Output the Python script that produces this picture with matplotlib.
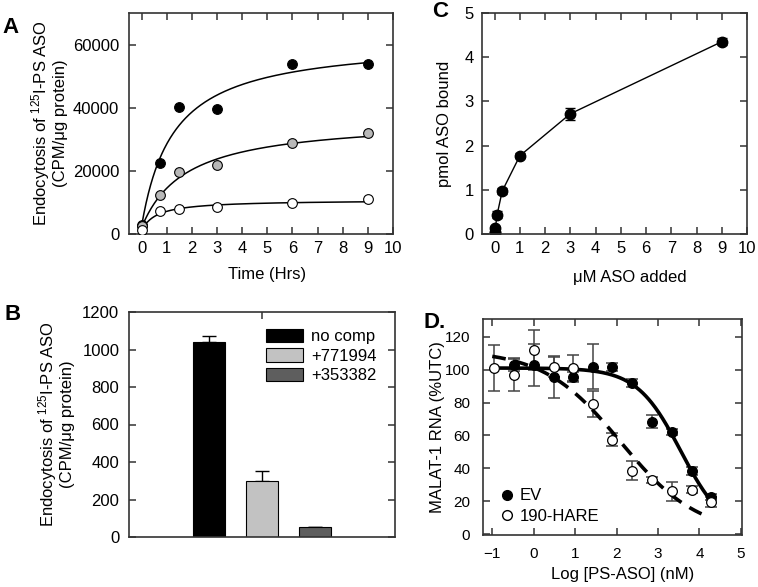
import numpy as np
import matplotlib
matplotlib.use("Agg")
import matplotlib.pyplot as plt
from matplotlib.patches import Patch
from matplotlib.lines import Line2D

plt.rcParams['font.family'] = ['Liberation Sans', 'DejaVu Sans']
plt.rcParams['mathtext.fontset'] = 'custom'
plt.rcParams['mathtext.rm'] = 'Liberation Sans'
plt.rcParams['mathtext.it'] = 'Liberation Sans:italic'
plt.rcParams['mathtext.bf'] = 'Liberation Sans:bold'

# ---------------- data ----------------
# Panel A: endocytosis time course
time_hrs = [0, 0.75, 1.5, 3, 6, 9]
a_black = [2800, 22500, 40100, 39700, 54000, 54000]
a_gray = [2500, 12300, 19700, 21900, 28700, 31900]
a_white = [1200, 7300, 7800, 8400, 9900, 11000]
# hyperbolic fit params (y0, vmax, k)
fit_black = (2500, 59140, 1.275)
fit_gray = (2000, 34570, 1.767)
fit_white = (1000, 9800, 0.587)

# Panel B: bars
b_labels = ["no comp", "+771994", "+353382"]
b_values = [1040, 300, 53]
b_errors = [30, 53, 3]
b_colors = ["#000000", "#c2c2c2", "#5e5e5e"]

# Panel C: binding
c_conc = [0.003, 0.01, 0.03, 0.1, 0.3, 1, 3, 9]
c_bound = [0.015, 0.05, 0.14, 0.44, 0.97, 1.77, 2.72, 4.35]
c_err = [0.03, 0.04, 0.05, 0.07, 0.06, 0.06, 0.13, 0.08]

# Panel D: dose response
d_ev_x = [-0.48, 0.0, 0.48, 0.95, 1.43, 1.9, 2.38, 2.86, 3.33, 3.81, 4.29]
d_ev_y = [102.8, 102.8, 95.7, 95.3, 101.8, 101.4, 92.1, 68.4, 62.0, 38.5, 22.5]
d_ev_err = [3.8, 12.5, 12.7, 3.0, 13.6, 2.5, 2.5, 3.9, 2.0, 2.5, 2.0]
d_h_x = [-0.95, -0.48, 0.0, 0.48, 0.95, 1.43, 1.9, 2.38, 2.86, 3.33, 3.81, 4.29]
d_h_y = [101.0, 97.0, 112.0, 101.8, 101.0, 79.0, 57.5, 38.5, 33.0, 26.0, 27.0, 19.5]
d_h_err = [13.8, 10.0, 12.0, 6.0, 8.0, 8.0, 4.0, 5.8, 2.0, 5.8, 2.0, 3.0]
# 4PL fit params (top, bottom, logIC50, hill)
fit_ev = (101, 0, 3.55, 0.82)
fit_hare = (112, 0, 2.1, 0.465)

# ---------------- figure ----------------
fig = plt.figure(figsize=(7.58, 5.87), dpi=100)
W, H = 758, 587


def ax_px(l, t, r, b):
    return fig.add_axes([l / W, 1 - b / H, (r - l) / W, (b - t) / H])


SP = '#333333'
FS = 12


def style(ax, pad_x=5, pad_y=7, lsize=FS):
    for s in ax.spines.values():
        s.set_color(SP)
        s.set_linewidth(1.2)
    ax.tick_params(direction='in', length=5, width=1.1, color=SP,
                   top=True, right=True, labelsize=lsize)
    ax.tick_params(axis='x', pad=pad_x)
    ax.tick_params(axis='y', pad=pad_y)


# Panel A
axA = ax_px(129, 13, 393, 234)
style(axA)
tt = np.linspace(0, 9, 300)
for (y0, vm, k) in (fit_black, fit_gray, fit_white):
    axA.plot(tt, y0 + vm * tt / (k + tt), color='black', lw=1.1, zorder=2)
axA.plot(time_hrs, a_black, 'o', ms=7, mfc='black', mec='black', mew=0.8, zorder=3)
axA.plot(time_hrs, a_gray, 'o', ms=7, mfc='#b8b8b8', mec='black', mew=0.8, zorder=3)
axA.plot(time_hrs, a_white, 'o', ms=7, mfc='white', mec='black', mew=0.8, zorder=3)
axA.set_xlim(-0.5, 10)
axA.set_ylim(0, 70000)
axA.set_xticks(range(0, 11))
axA.set_yticks([0, 20000, 40000, 60000])
axA.set_xlabel("Time (Hrs)", fontsize=FS)
axA.xaxis.set_label_coords(0.523, -0.149)
axA.xaxis.label.set_va('top')
axA.set_ylabel("Endocytosis of $^{125}$I-PS ASO\n(CPM/\u03bcg protein)", fontsize=FS, linespacing=1.1)
axA.yaxis.set_label_coords(-0.231, 0.5)

# Panel B
axB = ax_px(129, 312, 395, 537)
style(axB)
bx = [1, 2, 3]
axB.bar(bx, b_values, width=0.6, color=b_colors, edgecolor='black', linewidth=0.8, zorder=2)
axB.errorbar(bx, b_values, yerr=[[0, 0, 0], b_errors], fmt='none', ecolor='black',
             elinewidth=1.0, capsize=5, capthick=1.0, zorder=1)
axB.set_xlim(-0.5, 4.5)
axB.set_ylim(0, 1200)
axB.set_yticks(range(0, 1201, 200))
axB.set_xticks([2])
axB.tick_params(axis='x', bottom=False, labelbottom=False, top=True)
axB.set_ylabel("Endocytosis of $^{125}$I-PS ASO\n(CPM/\u03bcg protein)", fontsize=FS, linespacing=1.1)
axB.yaxis.set_label_coords(-0.203, 0.5)
handles = [Patch(facecolor=c, edgecolor='black', linewidth=0.8) for c in b_colors]
axB.legend(handles, b_labels, loc='upper left', bbox_to_anchor=(0.515, 0.925),
           frameon=False, fontsize=FS, handlelength=2.2, handleheight=0.85,
           labelspacing=0.25, handletextpad=0.5, borderpad=0, borderaxespad=0)

# Panel C
axC = ax_px(482, 13, 747, 234)
style(axC, pad_y=6)
axC.errorbar(c_conc, c_bound, yerr=c_err, fmt='-o', color='black', ms=7.5, lw=1.0,
             elinewidth=1.0, capsize=3.5, capthick=1.0)
axC.set_xlim(-0.5, 10)
axC.set_ylim(0, 5)
axC.set_xticks(range(0, 11))
axC.set_yticks(range(0, 6))
axC.set_xlabel("\u03bcM ASO added", fontsize=FS)
axC.xaxis.set_label_coords(0.558, -0.163)
axC.xaxis.label.set_va('top')
axC.set_ylabel("pmol ASO bound", fontsize=FS)
axC.yaxis.set_label_coords(-0.113, 0.5)

# Panel D
axD = ax_px(482.7, 319.3, 741.7, 535)
style(axD, pad_x=9, pad_y=9, lsize=11)
xx_ev = np.linspace(-1, 4.3, 300)
xx_h = np.linspace(-1, 4.17, 300)


def fpl(x, p):
    top, bot, c, h = p
    return bot + (top - bot) / (1 + 10 ** (h * (x - c)))


axD.errorbar(d_ev_x, d_ev_y, yerr=d_ev_err, fmt='none', ecolor='#444444',
             elinewidth=1.1, capsize=4, capthick=1.1, zorder=2)
axD.errorbar(d_h_x, d_h_y, yerr=d_h_err, fmt='none', ecolor='#444444',
             elinewidth=1.1, capsize=4, capthick=1.1, zorder=2)
axD.plot(xx_ev, fpl(xx_ev, fit_ev), color='black', lw=2.6, zorder=3)
axD.plot(xx_h, fpl(xx_h, fit_hare), color='black', lw=2.6, ls=(0, (3.8, 2.6)), zorder=3)
axD.plot(d_ev_x, d_ev_y, 'o', ms=7, mfc='black', mec='black', mew=0.9, zorder=4)
axD.plot(d_h_x, d_h_y, 'o', ms=7, mfc='white', mec='black', mew=0.9, zorder=4)
axD.set_xlim(-1.23, 5.02)
axD.set_ylim(-0.5, 130.6)
axD.set_xticks(range(-1, 6))
axD.set_yticks(range(0, 121, 20))
axD.set_xlabel("Log [PS-ASO] (nM)", fontsize=FS)
axD.xaxis.set_label_coords(0.54, -0.148)
axD.xaxis.label.set_va('top')
axD.set_ylabel("MALAT-1 RNA (%UTC)", fontsize=FS)
axD.yaxis.set_label_coords(-0.145, 0.5)
lh = [Line2D([], [], ls='none', marker='o', ms=7, mfc='black', mec='black'),
      Line2D([], [], ls='none', marker='o', ms=7, mfc='white', mec='black')]
axD.legend(lh, ["EV", "190-HARE"], loc='lower left', bbox_to_anchor=(0.06, 0.05),
           frameon=False, fontsize=FS, handlelength=1.0, handletextpad=0.3,
           labelspacing=0.35, borderpad=0, borderaxespad=0)

# panel letters
for txt, x, y in (("A", 2, 33), ("B", 5, 320), ("C", 432, 17), ("D.", 423, 328)):
    fig.text(x / W, 1 - y / H, txt, fontsize=16, fontweight='bold', ha='left', va='baseline')

fig.savefig("out.png", dpi=100)
